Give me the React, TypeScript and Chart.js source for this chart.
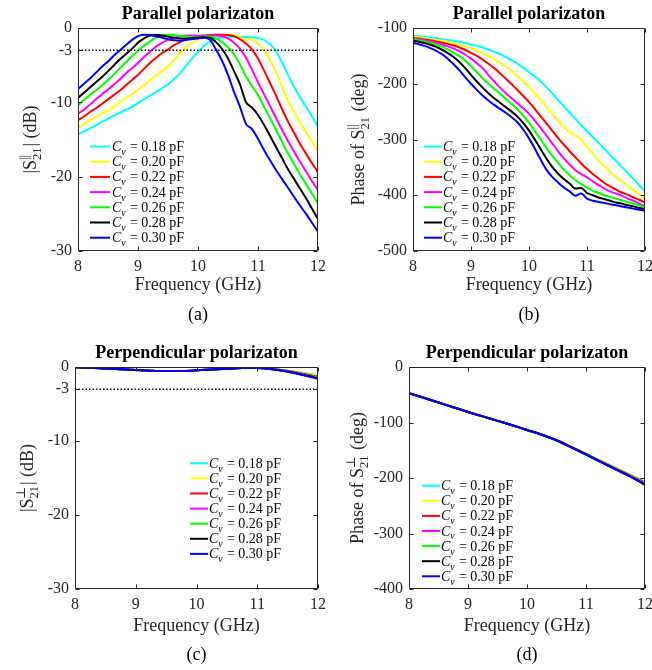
import React, { useEffect, useRef } from "react";
import { Chart, registerables } from "chart.js";

Chart.register(...registerables);

// ---------------- data ----------------
const freq = [8.0, 8.1, 8.2, 8.3, 8.4, 8.5, 8.6, 8.7, 8.8, 8.9, 9.0, 9.1, 9.2, 9.3, 9.4, 9.5, 9.6, 9.7, 9.8, 9.9, 10.0, 10.1, 10.2, 10.3, 10.4, 10.5, 10.6, 10.7, 10.8, 10.9, 11.0, 11.1, 11.2, 11.3, 11.4, 11.5, 11.6, 11.7, 11.8, 11.9, 12.0];
const freqCoarse = [8, 8.25, 8.5, 8.75, 9, 9.25, 9.5, 9.75, 10, 10.25, 10.5, 10.75, 11, 11.25, 11.5, 11.75, 12];

const capacitances = ["0.18", "0.20", "0.22", "0.24", "0.26", "0.28", "0.30"];
const seriesColors = ["#00FFFF", "#FFFF00", "#FF0000", "#FF00FF", "#00FF00", "#000000", "#0000FF"];

const xTicks = [8, 9, 10, 11, 12];
const magTicks = [0, -3, -10, -20, -30];
const phaseParTicks = [-100, -200, -300, -400, -500];
const phasePerpTicks = [0, -100, -200, -300, -400];

// (a) |S21 parallel| (dB)
const magParCv018 = [-14.3, -13.9, -13.5, -13.1, -12.6, -12.2, -11.8, -11.4, -11.0, -10.6, -10.1, -9.6, -9.1, -8.6, -8.1, -7.6, -6.9, -6.1, -5.1, -4.1, -3.2, -2.4, -1.8, -1.45, -1.3, -1.2, -1.2, -1.2, -1.2, -1.25, -1.35, -1.6, -2.2, -3.1, -4.6, -6.3, -7.9, -9.3, -10.6, -11.9, -13.25];
const magParCv020 = [-13.4, -12.9, -12.4, -12.0, -11.5, -11.1, -10.6, -10.0, -9.4, -8.9, -8.3, -7.7, -7.0, -6.4, -5.8, -5.2, -4.3, -3.4, -2.6, -2.0, -1.6, -1.3, -1.1, -1.0, -0.95, -0.9, -0.95, -1.3, -1.6, -1.5, -2.1, -3.0, -4.3, -5.9, -7.9, -9.8, -11.3, -12.7, -14.0, -15.3, -16.55];
const magParCv022 = [-12.4, -11.9, -11.3, -10.8, -10.2, -9.6, -9.0, -8.4, -7.7, -7.0, -6.3, -5.5, -4.7, -4.0, -3.4, -2.9, -2.3, -1.9, -1.5, -1.25, -1.1, -1.0, -0.95, -0.9, -0.9, -0.95, -1.1, -1.5, -2.1, -2.9, -4.1, -5.7, -7.4, -9.1, -10.9, -12.6, -14.1, -15.6, -16.9, -18.2, -19.4];
const magParCv024 = [-11.5, -11.0, -10.3, -9.6, -8.9, -8.3, -7.6, -6.9, -6.1, -5.4, -4.7, -3.9, -3.2, -2.5, -2.0, -1.6, -1.3, -1.1, -1.0, -1.0, -1.05, -1.05, -1.0, -1.0, -1.1, -1.4, -2.0, -2.8, -4.0, -5.6, -7.3, -8.9, -10.5, -12.1, -13.7, -15.2, -16.6, -18.0, -19.3, -20.6, -21.8];
const magParCv026 = [-10.4, -9.7, -9.0, -8.4, -7.7, -7.0, -6.2, -5.4, -4.6, -3.8, -3.1, -2.4, -1.8, -1.3, -1.0, -0.9, -0.95, -1.05, -1.15, -1.2, -1.2, -1.15, -1.15, -1.4, -1.9, -2.6, -3.5, -4.9, -6.5, -7.8, -9.0, -10.6, -12.1, -13.7, -15.3, -16.9, -18.3, -19.7, -21.0, -22.3, -23.6];
const magParCv028 = [-9.4, -8.7, -8.0, -7.3, -6.6, -5.8, -5.0, -4.2, -3.5, -2.8, -2.0, -1.4, -1.0, -0.9, -1.0, -1.15, -1.3, -1.4, -1.4, -1.35, -1.3, -1.25, -1.3, -1.9, -2.8, -4.1, -5.8, -7.6, -10.0, -10.7, -11.7, -13.0, -14.5, -16.0, -17.5, -19.0, -20.3, -21.6, -22.9, -24.3, -25.7];
const magParCv030 = [-8.2, -7.5, -6.8, -6.0, -5.2, -4.5, -3.7, -3.0, -2.3, -1.6, -1.1, -0.9, -0.95, -1.1, -1.3, -1.5, -1.65, -1.7, -1.6, -1.5, -1.4, -1.3, -1.6, -2.9, -4.4, -6.3, -8.6, -10.6, -12.9, -13.6, -14.9, -16.4, -17.8, -19.1, -20.3, -21.5, -22.7, -23.9, -25.0, -26.2, -27.4];

// (b) phase of S21 parallel (deg)
const phaseParCv018 = [-114, -115, -116, -117, -118, -120, -121.5, -123, -125, -127, -129.5, -132, -135, -138.5, -142.5, -147, -152, -157.5, -164, -171, -179, -187, -196, -206, -217, -229, -240, -252, -263, -274, -285, -296, -306, -317, -328, -338, -349, -360, -371, -382, -393];
const phaseParCv020 = [-116, -117, -118.5, -120, -121.5, -123, -125, -127.5, -130, -133, -136.5, -140.5, -145, -150, -156, -162, -169, -177, -186, -196, -206, -217, -229, -241, -254, -266, -277, -287, -292, -300, -313, -325, -337, -348, -358, -367, -375, -382, -390, -398, -405];
const phaseParCv022 = [-118, -119, -120.5, -122, -124, -126, -128.5, -131.5, -135, -139.5, -144.5, -150, -156.5, -164, -172, -181, -191, -201, -211, -222, -233, -245, -258, -271, -284, -297, -309, -321, -332, -343, -353, -362, -370, -378, -384, -390, -395, -399, -404, -408, -413];
const phaseParCv024 = [-119, -120.5, -122, -124, -126.5, -129.5, -133, -137, -142, -148, -155, -163, -172, -184, -196, -207, -217, -226, -235, -244, -254, -266, -279, -293, -307, -321, -334, -345, -355, -362, -368, -375, -382, -388, -393, -397, -401, -406, -410, -415, -419];
const phaseParCv026 = [-120.5, -122, -124, -126.5, -129.5, -133.5, -138.5, -144, -150.5, -158.5, -168, -179, -190, -200, -209, -218, -227, -236, -246, -257, -270, -285, -300, -315, -329, -342, -354, -364, -373, -380, -386, -392, -396, -400, -403, -406, -409, -412, -415, -418, -421];
const phaseParCv028 = [-122.5, -124.5, -127, -130, -134, -139, -145, -152, -161, -172, -184, -196, -207, -217, -226, -234, -242, -250, -259, -270, -284, -300, -317, -334, -349, -361, -371, -379, -388, -387, -396, -400, -404, -407, -410, -413, -415, -418, -420, -423, -425];
const phaseParCv030 = [-126.5, -129, -132, -136, -141, -147, -155, -165, -176, -188, -200, -211, -221, -230, -238, -245, -252, -260, -269, -282, -298, -316, -336, -354, -367, -377, -386, -393, -401, -397, -406, -410, -412, -414, -416, -418, -420, -422, -424, -426, -428];

// (c) |S21 perpendicular| (dB)
const magPerpCv018 = [-0.05, -0.1, -0.2, -0.3, -0.4, -0.5, -0.55, -0.55, -0.45, -0.35, -0.25, -0.15, -0.15, -0.25, -0.5, -0.8, -1.1];
const magPerpCv020 = [-0.05, -0.1, -0.2, -0.3, -0.4, -0.5, -0.55, -0.55, -0.45, -0.35, -0.25, -0.15, -0.15, -0.27, -0.52, -0.85, -1.2];
const magPerpCv022 = [-0.05, -0.1, -0.2, -0.3, -0.4, -0.5, -0.55, -0.55, -0.45, -0.35, -0.25, -0.15, -0.15, -0.28, -0.55, -0.9, -1.3];
const magPerpCv024 = [-0.05, -0.1, -0.2, -0.3, -0.4, -0.5, -0.55, -0.55, -0.45, -0.35, -0.25, -0.15, -0.15, -0.29, -0.57, -0.95, -1.4];
const magPerpCv026 = [-0.05, -0.1, -0.2, -0.3, -0.4, -0.5, -0.55, -0.55, -0.45, -0.35, -0.25, -0.15, -0.15, -0.3, -0.6, -1.0, -1.45];
const magPerpCv028 = [-0.05, -0.1, -0.2, -0.3, -0.4, -0.5, -0.55, -0.55, -0.45, -0.35, -0.25, -0.15, -0.15, -0.31, -0.62, -1.05, -1.52];
const magPerpCv030 = [-0.05, -0.1, -0.2, -0.3, -0.4, -0.5, -0.55, -0.55, -0.45, -0.35, -0.25, -0.15, -0.15, -0.32, -0.65, -1.1, -1.6];

// (d) phase of S21 perpendicular (deg)
const phasePerpCv018 = [-47, -55.5, -64, -72.5, -81, -89, -97, -105, -113.5, -122, -132, -143.5, -156, -169, -181.5, -194, -206];
const phasePerpCv020 = [-47, -55.5, -64, -72.5, -81, -89, -97, -105, -113.5, -122, -132, -143.7, -156.3, -169.4, -182, -194.6, -207.2];
const phasePerpCv022 = [-47, -55.5, -64, -72.5, -81, -89, -97, -105, -113.5, -122, -132, -144, -156.7, -169.8, -182.5, -195.2, -208.3];
const phasePerpCv024 = [-47, -55.5, -64, -72.5, -81, -89, -97, -105, -113.5, -122, -132, -144.2, -157, -170.2, -183, -195.8, -209.4];
const phasePerpCv026 = [-47, -55.5, -64, -72.5, -81, -89, -97, -105, -113.5, -122, -132, -144.4, -157.3, -170.6, -183.5, -196.4, -210.4];
const phasePerpCv028 = [-47, -55.5, -64, -72.5, -81, -89, -97, -105, -113.5, -122, -132, -144.6, -157.6, -171, -184, -197, -211.4];
const phasePerpCv030 = [-47, -55.5, -64, -72.5, -81, -89, -97, -105, -113.5, -122, -132, -144.8, -158, -171.5, -184.6, -197.7, -212.5];

// ---------------- styling / layout ----------------
const FONT = '"Liberation Serif", "Times New Roman", "DejaVu Serif", serif';
const AXIS = "#262626";
const CW = 326;
const CH = 335;
const YW = 40;
const XH = 30;

Chart.defaults.font.family = FONT;

type Seg = { t?: string; italic?: boolean; sup?: string; sub?: string; subItalic?: boolean };

type Spec = {
  left: number;
  top: number;
  area: { l: number; r: number; t: number; b: number };
  yMin: number;
  yMax: number;
  yTicks: number[];
  xs: number[];
  series: number[][];
  ref3dB: boolean;
  title: string;
  yLabel: Seg[];
  yLabelX: number;
  caption: string;
  titleY: number;
  xLabelY: number;
  captionY: number;
  legend: { x1: number; x2: number; tx: number; y0: number; dy: number };
};

function segWidth(ctx: CanvasRenderingContext2D, s: Seg, size: number) {
  if (s.t !== undefined) {
    ctx.font = `${s.italic ? "italic " : ""}${size}px ${FONT}`;
    return ctx.measureText(s.t).width;
  }
  ctx.font = `${s.subItalic ? "italic " : ""}${size * 0.7}px ${FONT}`;
  const a = s.sup ? ctx.measureText(s.sup).width : 0;
  const b = s.sub ? ctx.measureText(s.sub).width : 0;
  return Math.max(a, b) + size * 0.05;
}

function drawSegs(ctx: CanvasRenderingContext2D, segs: Seg[], x: number, y: number, size: number, center: boolean) {
  const widths = segs.map((s) => segWidth(ctx, s, size));
  const total = widths.reduce((p, c) => p + c, 0);
  let cx = center ? x - total / 2 : x;
  ctx.textAlign = "left";
  ctx.textBaseline = "alphabetic";
  segs.forEach((s, i) => {
    if (s.t !== undefined) {
      ctx.font = `${s.italic ? "italic " : ""}${size}px ${FONT}`;
      ctx.fillText(s.t, cx, y);
    } else {
      ctx.font = `${s.subItalic ? "italic " : ""}${size * 0.7}px ${FONT}`;
      if (s.sup) ctx.fillText(s.sup, cx, y - size * 0.45);
      if (s.sub) ctx.fillText(s.sub, cx, y + size * 0.28);
    }
    cx += widths[i];
  });
}

function decorPlugin(spec: Spec) {
  return {
    id: "decor",
    afterDraw(chart: any) {
      const ctx: CanvasRenderingContext2D = chart.ctx;
      const a = chart.chartArea;
      const xs = chart.scales.x;
      const ys = chart.scales.y;
      const L = Math.round(a.left) + 0.5;
      const R = Math.round(a.right) - 0.5;
      const T = Math.round(a.top) + 0.5;
      const B = Math.round(a.bottom) - 0.5;
      ctx.save();
      ctx.strokeStyle = AXIS;
      ctx.lineWidth = 1;
      ctx.beginPath();
      ctx.rect(L, T, R - L, B - T);
      const tl = 4;
      xTicks.forEach((v) => {
        const px = Math.round(xs.getPixelForValue(v)) + 0.5;
        ctx.moveTo(px, B);
        ctx.lineTo(px, B - tl);
        ctx.moveTo(px, T);
        ctx.lineTo(px, T + tl);
      });
      spec.yTicks.forEach((v) => {
        const py = Math.round(ys.getPixelForValue(v)) + 0.5;
        ctx.moveTo(L, py);
        ctx.lineTo(L + tl, py);
        ctx.moveTo(R, py);
        ctx.lineTo(R - tl, py);
      });
      ctx.stroke();

      const cxArea = (a.left + a.right) / 2;
      const cyArea = (a.top + a.bottom) / 2;

      // title
      ctx.fillStyle = "#000";
      ctx.font = `bold 18px ${FONT}`;
      ctx.textAlign = "center";
      ctx.textBaseline = "middle";
      ctx.fillText(spec.title, cxArea, spec.titleY);

      // x label and caption
      ctx.fillStyle = AXIS;
      ctx.font = `18px ${FONT}`;
      ctx.fillText("Frequency (GHz)", cxArea, spec.xLabelY);
      ctx.fillStyle = "#000";
      ctx.fillText(spec.caption, cxArea, spec.captionY);

      // y label (rotated, with sub/superscripts)
      ctx.save();
      ctx.fillStyle = AXIS;
      ctx.translate(spec.yLabelX, cyArea);
      ctx.rotate(-Math.PI / 2);
      drawSegs(ctx, spec.yLabel, 0, 6, 18, true);
      ctx.restore();

      // legend
      const lg = spec.legend;
      capacitances.forEach((c, i) => {
        const y = lg.y0 + i * lg.dy;
        ctx.strokeStyle = seriesColors[i];
        ctx.lineWidth = 2;
        ctx.beginPath();
        ctx.moveTo(lg.x1, y);
        ctx.lineTo(lg.x2, y);
        ctx.stroke();
        ctx.fillStyle = "#000";
        drawSegs(
          ctx,
          [{ t: "C", italic: true }, { sub: "v", subItalic: true }, { t: ` = ${c} pF` }],
          lg.tx,
          y + 4.5,
          14,
          false
        );
      });
      ctx.restore();
    },
  };
}

function buildConfig(spec: Spec): any {
  const datasets: any[] = spec.series.map((ys, i) => ({
    label: `C_v = ${capacitances[i]} pF`,
    data: ys.map((y, j) => ({ x: spec.xs[j], y })),
    borderColor: seriesColors[i],
    backgroundColor: seriesColors[i],
    borderWidth: 2,
    pointRadius: 0,
    fill: false,
    cubicInterpolationMode: "monotone",
    order: 10 - i,
  }));
  if (spec.ref3dB) {
    datasets.push({
      label: "-3 dB",
      data: [
        { x: xTicks[0], y: -3 },
        { x: xTicks[xTicks.length - 1], y: -3 },
      ],
      borderColor: "#000",
      borderWidth: 1.5,
      borderDash: [1.5, 2],
      pointRadius: 0,
      fill: false,
      order: 0,
    });
  }
  const a = spec.area;
  return {
    type: "line",
    data: { datasets },
    options: {
      animation: false,
      responsive: false,
      maintainAspectRatio: false,
      events: [],
      layout: {
        autoPadding: false,
        padding: { left: a.l - YW, right: CW - a.r, top: a.t, bottom: CH - a.b - XH },
      },
      plugins: { legend: { display: false }, tooltip: { enabled: false }, title: { display: false } },
      scales: {
        x: {
          type: "linear",
          min: 8,
          max: 12,
          grid: { display: false, drawTicks: false },
          border: { display: false },
          ticks: { font: { family: FONT, size: 16 }, color: AXIS, padding: 6, maxRotation: 0, autoSkip: false },
          afterBuildTicks: (s: any) => {
            s.ticks = xTicks.map((v) => ({ value: v }));
          },
          afterFit: (s: any) => {
            s.height = XH;
            s.paddingLeft = 0;
            s.paddingRight = 0;
          },
        },
        y: {
          type: "linear",
          min: spec.yMin,
          max: spec.yMax,
          grid: { display: false, drawTicks: false },
          border: { display: false },
          ticks: { font: { family: FONT, size: 16 }, color: AXIS, padding: 6, autoSkip: false },
          afterBuildTicks: (s: any) => {
            s.ticks = spec.yTicks.map((v) => ({ value: v }));
          },
          afterFit: (s: any) => {
            s.width = YW;
            s.paddingTop = 0;
            s.paddingBottom = 0;
          },
        },
      },
    },
    plugins: [decorPlugin(spec)],
  };
}

const specs: Spec[] = [
  {
    left: 0,
    top: 0,
    area: { l: 78, r: 318, t: 28, b: 251 },
    yMin: -30,
    yMax: 0,
    yTicks: magTicks,
    xs: freq,
    series: [magParCv018, magParCv020, magParCv022, magParCv024, magParCv026, magParCv028, magParCv030],
    ref3dB: true,
    title: "Parallel polarizaton",
    yLabel: [{ t: "|S" }, { sup: "||", sub: "21" }, { t: "| (dB)" }],
    yLabelX: 30,
    caption: "(a)",
    titleY: 14,
    xLabelY: 285,
    captionY: 315,
    legend: { x1: 90, x2: 110, tx: 112, y0: 146.5, dy: 15.2 },
  },
  {
    left: 326,
    top: 0,
    area: { l: 87, r: 319, t: 28, b: 251 },
    yMin: -500,
    yMax: -100,
    yTicks: phaseParTicks,
    xs: freq,
    series: [phaseParCv018, phaseParCv020, phaseParCv022, phaseParCv024, phaseParCv026, phaseParCv028, phaseParCv030],
    ref3dB: false,
    title: "Parallel polarizaton",
    yLabel: [{ t: "Phase of S" }, { sup: "||", sub: "21" }, { t: " (deg)" }],
    yLabelX: 32,
    caption: "(b)",
    titleY: 14,
    xLabelY: 285,
    captionY: 315,
    legend: { x1: 98, x2: 116, tx: 117, y0: 146.5, dy: 15.2 },
  },
  {
    left: 0,
    top: 335,
    area: { l: 75, r: 318, t: 32, b: 254 },
    yMin: -30,
    yMax: 0,
    yTicks: magTicks,
    xs: freqCoarse,
    series: [magPerpCv018, magPerpCv020, magPerpCv022, magPerpCv024, magPerpCv026, magPerpCv028, magPerpCv030],
    ref3dB: true,
    title: "Perpendicular polarizaton",
    yLabel: [{ t: "|S" }, { sup: "⊥", sub: "21" }, { t: "| (dB)" }],
    yLabelX: 27,
    caption: "(c)",
    titleY: 18,
    xLabelY: 291,
    captionY: 320,
    legend: { x1: 190, x2: 208, tx: 209, y0: 128.3, dy: 15.1 },
  },
  {
    left: 326,
    top: 335,
    area: { l: 83, r: 319, t: 32, b: 254 },
    yMin: -400,
    yMax: 0,
    yTicks: phasePerpTicks,
    xs: freqCoarse,
    series: [phasePerpCv018, phasePerpCv020, phasePerpCv022, phasePerpCv024, phasePerpCv026, phasePerpCv028, phasePerpCv030],
    ref3dB: false,
    title: "Perpendicular polarizaton",
    yLabel: [{ t: "Phase of S" }, { sup: "⊥", sub: "21" }, { t: " (deg)" }],
    yLabelX: 31,
    caption: "(d)",
    titleY: 18,
    xLabelY: 291,
    captionY: 320,
    legend: { x1: 96, x2: 114, tx: 115, y0: 150.7, dy: 15.1 },
  },
];

function Panel({ spec }: { spec: Spec }) {
  const ref = useRef<HTMLCanvasElement>(null);
  useEffect(() => {
    if (!ref.current) return;
    const chart = new Chart(ref.current, buildConfig(spec));
    return () => chart.destroy();
  }, [spec]);
  return (
    <canvas
      ref={ref}
      width={CW}
      height={CH}
      style={{ position: "absolute", left: spec.left, top: spec.top, width: CW, height: CH, display: "block" }}
    />
  );
}

export default function App() {
  return (
    <div style={{ position: "absolute", left: 0, top: 0, width: 652, height: 670, background: "#fff", overflow: "hidden" }}>
      {specs.map((s, i) => (
        <Panel key={i} spec={s} />
      ))}
    </div>
  );
}
